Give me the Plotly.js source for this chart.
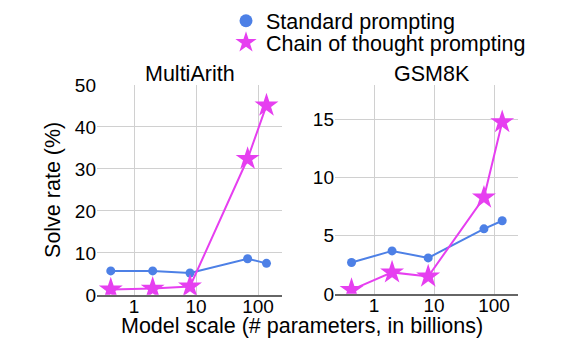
<!DOCTYPE html>
<html>
<head>
<meta charset="utf-8">
<script src="https://cdn.plot.ly/plotly-3.0.1.min.js"></script>
<style>html,body{margin:0;padding:0;background:#fff;}</style>
</head>
<body>
<div id="chart" style="width:574px;height:355px;"></div>
<script>
// Model sizes (billions of parameters)
const modelScale = [0.422, 2, 8, 68, 137];

// MultiArith solve rate (%)
const multiArithStandard = [5.7, 5.7, 5.2, 8.6, 7.5];
const multiArithCoT = [1.3, 1.5, 2.0, 32.4, 45.1];

// GSM8K solve rate (%)
const gsm8kStandard = [2.7, 3.7, 3.1, 5.6, 6.3];
const gsm8kCoT = [0.35, 1.85, 1.5, 8.3, 14.8];

const seriesNames = ["Standard prompting", "Chain of thought prompting"];
const panelTitles = ["MultiArith", "GSM8K"];
const xTickVals = [1, 10, 100];
const xTickText = ["1", "10", "100"];

const BLUE = "#4d80e6";
const MAG = "#e63ff0";
const FONT = "Arial, 'Liberation Sans', sans-serif";
const TXT = 21.5;
const TICK = 19;

function std(x, y, xa, ya) {
  return {x: x, y: y, xaxis: xa, yaxis: ya, mode: "lines+markers", showlegend: false,
    line: {color: BLUE, width: 2}, marker: {color: BLUE, size: 9, symbol: "circle"}, hoverinfo: "x+y"};
}
function cot(x, y, xa, ya) {
  return {x: x, y: y, xaxis: xa, yaxis: ya, mode: "lines+markers", showlegend: false,
    line: {color: MAG, width: 2}, marker: {color: MAG, size: 18, symbol: "star"}, hoverinfo: "x+y"};
}

const data = [
  std(modelScale, multiArithStandard, "x", "y"),
  cot(modelScale, multiArithCoT, "x", "y"),
  std(modelScale, gsm8kStandard, "x2", "y2"),
  cot(modelScale, gsm8kCoT, "x2", "y2"),
  {x: [null], y: [null], mode: "markers", name: seriesNames[0], legend: "legend", marker: {color: BLUE, size: 13, symbol: "circle"}, xaxis: "x", yaxis: "y"},
  {x: [null], y: [null], mode: "markers", name: seriesNames[1], legend: "legend2", marker: {color: MAG, size: 20, symbol: "star"}, xaxis: "x", yaxis: "y"}
];

const xCommon = {
  type: "log", tickvals: xTickVals, ticktext: xTickText, showgrid: true, gridcolor: "#d0d0d0", gridwidth: 1,
  zeroline: false, showline: true, linecolor: "#666", linewidth: 2, ticks: "", mirror: false,
  ticklabelstandoff: -7,
  tickfont: {family: FONT, size: TICK, color: "#000"}
};
const yCommon = {
  showgrid: true, gridcolor: "#d0d0d0", gridwidth: 1, zeroline: false, showline: false, ticks: "",
  tickfont: {family: FONT, size: TICK, color: "#000"}
};
const legendCommon = {xanchor: "left", yanchor: "middle", bgcolor: "rgba(0,0,0,0)",
  font: {family: FONT, size: TXT, color: "#000"}, itemsizing: "trace"};

const layout = {
  width: 574, height: 355,
  margin: {l: 0, r: 0, t: 0, b: 0},
  paper_bgcolor: "#fff", plot_bgcolor: "#fff",
  font: {family: FONT, size: TXT, color: "#000"},
  showlegend: true,
  legend: Object.assign({}, legendCommon, {x: 226/574, y: (355 - 16)/355}),
  legend2: Object.assign({}, legendCommon, {x: 226/574, y: (355 - 38)/355}),
  xaxis: Object.assign({}, xCommon, {domain: [97/574, 282/574], range: [-0.597, 2.387], anchor: "y"}),
  yaxis: Object.assign({}, yCommon, {domain: [61/355, 274/355], range: [0, 50], tickvals: [0, 10, 20, 30, 40, 50], anchor: "x",
    title: {text: "Solve rate (%)", font: {family: FONT, size: TXT, color: "#000"}, standoff: 8}}),
  xaxis2: Object.assign({}, xCommon, {domain: [335/574, 518/574], range: [-0.65, 2.4], anchor: "y2"}),
  yaxis2: Object.assign({}, yCommon, {domain: [62/355, 274/355], range: [0, 18], tickvals: [0, 5, 10, 15], anchor: "x2"}),
  annotations: [
    {text: panelTitles[0], xref: "paper", yref: "paper", x: 190/574, y: (355-70)/355, xanchor: "center", yanchor: "middle", showarrow: false, font: {family: FONT, size: TXT}},
    {text: panelTitles[1], xref: "paper", yref: "paper", x: 432/574, y: (355-70)/355, xanchor: "center", yanchor: "middle", showarrow: false, font: {family: FONT, size: TXT}},
    {text: "Model scale (# parameters, in billions)", xref: "paper", yref: "paper", x: 302/574, y: (355-326)/355, xanchor: "center", yanchor: "middle", showarrow: false, font: {family: FONT, size: TXT}}
  ]
};

Plotly.newPlot("chart", data, layout, {displayModeBar: false, staticPlot: true});
</script>
</body>
</html>
